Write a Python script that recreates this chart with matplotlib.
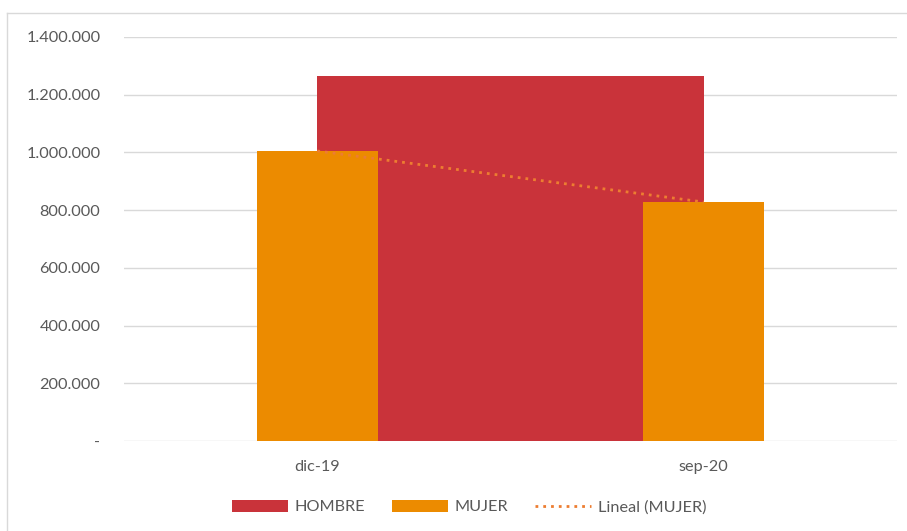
import numpy as np
import matplotlib.pyplot as plt
from matplotlib.patches import Patch
from matplotlib.lines import Line2D

categories = ['dic-19', 'sep-20']
hombre = [1265000, 1265000]
mujer = [1005000, 828000]
yticks = [0, 200000, 400000, 600000, 800000, 1000000, 1200000, 1400000]

red = '#C9333A'
orange = '#EC8B00'
trend_color = '#ED7D31'
grid_color = '#D9D9D9'
text_color = '#595959'

plt.rcParams['font.family'] = ['Lato', 'DejaVu Sans']

fig = plt.figure(figsize=(9.07, 5.31), dpi=100)
ax = fig.add_axes([124 / 907, 90 / 531, 773 / 907, 404 / 531])

x = np.arange(len(categories))

# HOMBRE drawn as an area between the two categories
ax.fill_between(x, 0, hombre, color=red, linewidth=0, zorder=2)

# MUJER bars
ax.bar(x, mujer, width=0.313, color=orange, zorder=3)

# linear trend of MUJER
coef = np.polyfit(x, mujer, 1)
ax.plot(x, np.polyval(coef, x), color=trend_color, linestyle=(0, (1, 1.8)),
        linewidth=2.0, zorder=4)

ax.set_xlim(-0.5, 1.5)
ax.set_ylim(0, 1400000)
ax.set_yticks(yticks)
ax.set_yticklabels(['-' if v == 0 else f'{v:,}'.replace(',', '.') for v in yticks])
ax.set_xticks(x)
ax.set_xticklabels(categories)
ax.grid(axis='y', color=grid_color, linewidth=1, zorder=0)
ax.set_axisbelow(True)
for s in ax.spines.values():
    s.set_visible(False)
ax.tick_params(length=0, labelsize=11.7, labelcolor=text_color)
ax.tick_params(axis='y', pad=17)
ax.tick_params(axis='x', pad=14)

handles = [
    Patch(facecolor=red, label='HOMBRE'),
    Patch(facecolor=orange, label='MUJER'),
    Line2D([], [], color=trend_color, linestyle=(0, (1, 1.8)), linewidth=2.0,
           label='Lineal (MUJER)'),
]
leg = fig.legend(handles=handles, loc='center', bbox_to_anchor=(469 / 907, 1 - 507 / 531),
                 ncol=3, frameon=False, fontsize=11.7, handlelength=3.5,
                 handleheight=0.75, columnspacing=1.6, handletextpad=0.4)
for t in leg.get_texts():
    t.set_color(text_color)

# outer chart frame (cropped at right and bottom)
fig.add_artist(Line2D([7 / 907, 1], [1 - 13 / 531] * 2, color=grid_color, linewidth=1))
fig.add_artist(Line2D([7 / 907] * 2, [0, 1 - 13 / 531], color=grid_color, linewidth=1))

fig.savefig('out.png', dpi=100)
